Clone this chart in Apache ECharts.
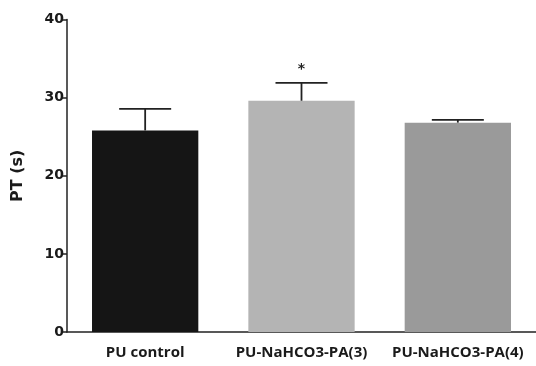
<!DOCTYPE html>
<html>
<head>
<meta charset="utf-8">
<script src="https://cdn.jsdelivr.net/npm/echarts@6/dist/echarts.min.js"></script>
<style>html,body{margin:0;padding:0;background:#fff;}#c{width:536px;height:366px;}</style>
</head>
<body>
<div id="c"></div>
<script>
const categories = ['PU control', 'PU-NaHCO3-PA(3)', 'PU-NaHCO3-PA(4)'];
const means = [25.8, 29.6, 26.8];
const errors = [2.75, 2.3, 0.35];
const significance = ['', '*', ''];
const barColors = ['#151515', '#b4b4b4', '#9a9a9a'];
const yTicks = { min: 0, max: 40, interval: 10 };

const chart = echarts.init(document.getElementById('c'));
const axisColor = '#222';
chart.setOption({
  animation: false,
  backgroundColor: '#fff',
  grid: { left: 67, width: 471, top: 19.5, bottom: 34 },
  xAxis: {
    type: 'category',
    data: categories,
    axisLine: { lineStyle: { color: axisColor, width: 1.5 } },
    axisTick: { alignWithLabel: true, length: 5, lineStyle: { color: axisColor, width: 1.5 } },
    axisLabel: { interval: 0, color: '#1a1a1a', fontFamily: 'Open Sans', fontWeight: 'bold', fontSize: 15, margin: 13 }
  },
  yAxis: {
    type: 'value',
    min: yTicks.min, max: yTicks.max, interval: yTicks.interval,
    name: 'PT (s)',
    nameLocation: 'middle',
    nameGap: 41,
    nameTextStyle: { color: '#1a1a1a', fontFamily: 'DejaVu Sans', fontWeight: 'bold', fontSize: 16 },
    splitLine: { show: false },
    axisLine: { show: true, lineStyle: { color: axisColor, width: 1.5 } },
    axisTick: { show: true, length: 5, lineStyle: { color: axisColor, width: 1.5 } },
    axisLabel: { color: '#1a1a1a', fontFamily: 'DejaVu Sans', fontWeight: 'bold', fontSize: 14, margin: 3 }
  },
  series: [
    {
      type: 'bar',
      barWidth: '68%',
      data: means.map((v, i) => ({ value: v, itemStyle: { color: barColors[i] } })),
      z: 2
    },
    {
      type: 'custom',
      z: 3,
      data: means.map((m, i) => [i, m, errors[i]]),
      renderItem: function (params, api) {
        const i = api.value(0), m = api.value(1), e = api.value(2);
        const p0 = api.coord([i, m]);
        const p1 = api.coord([i, m + e]);
        const style = { stroke: '#222', lineWidth: 1.8 };
        const children = [
          { type: 'line', shape: { x1: p0[0], y1: p0[1], x2: p1[0], y2: p1[1] }, style: style },
          { type: 'line', shape: { x1: p1[0] - 26, y1: p1[1], x2: p1[0] + 26, y2: p1[1] }, style: style }
        ];
        const s = significance[params.dataIndex];
        if (s) {
          children.push({ type: 'text', style: { text: s, x: p1[0], y: p1[1] - 13, align: 'center', verticalAlign: 'middle', fill: '#222', font: 'bold 14px DejaVu Sans' } });
        }
        return { type: 'group', children: children };
      }
    }
  ]
});
</script>
</body>
</html>
